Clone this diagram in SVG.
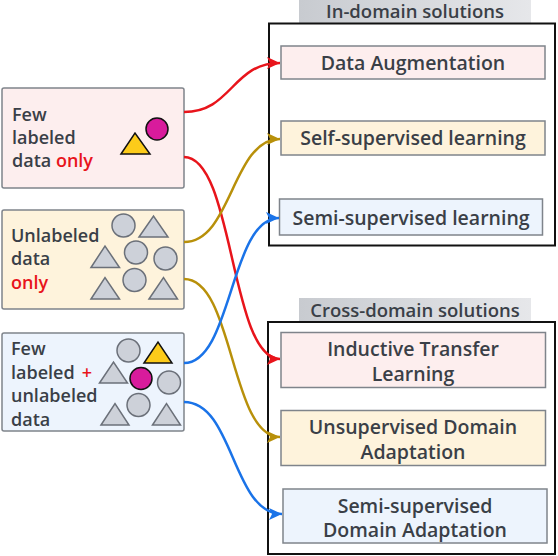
<svg xmlns="http://www.w3.org/2000/svg" width="558" height="556" viewBox="0 0 558 556">
<defs>
<style>
.t{font-family:"Open Sans","Noto Sans","Liberation Sans",sans-serif;font-weight:600;font-size:18px;fill:#3a3f47}
.r{font-size:19.5px}
.h{font-size:18.5px}
.red{fill:#e8141b}
.c{text-anchor:middle}
.box{stroke:#7f848b;stroke-width:1.5}
.pink{fill:#fdeeee}
.yel{fill:#fef3dc}
.blu{fill:#edf4fd}
.cont{fill:none;stroke:#111;stroke-width:2}
.gs{fill:#cdd1d9;stroke:#6b7079;stroke-width:1.5}
.ks{stroke:#111;stroke-width:1.5}
.mag{fill:#d81b9c}
.ylw{fill:#fccb1a}
.conn path{fill:none;stroke-width:2.5}
</style>
<linearGradient id="lg" x1="0" y1="0" x2="1" y2="0">
<stop offset="0" stop-color="#c8cbd0"/>
<stop offset="1" stop-color="#e6e7ea"/>
</linearGradient>
<marker id="ar" markerUnits="userSpaceOnUse" markerWidth="14" markerHeight="12" refX="13" refY="6" orient="auto"><path d="M0,0 L13,6 L0,12 L3,6 z" fill="#e8141b"/></marker>
<marker id="ag" markerUnits="userSpaceOnUse" markerWidth="14" markerHeight="12" refX="13" refY="6" orient="auto"><path d="M0,0 L13,6 L0,12 L3,6 z" fill="#b8900a"/></marker>
<marker id="ab" markerUnits="userSpaceOnUse" markerWidth="14" markerHeight="12" refX="13" refY="6" orient="auto"><path d="M0,0 L13,6 L0,12 L3,6 z" fill="#1a73e8"/></marker>
</defs>
<rect width="558" height="556" fill="#fff"/>

<g id="in-domain">
<rect x="299" y="0" width="232" height="23" fill="url(#lg)"/>
<text class="t h c" x="415" y="18">In-domain solutions</text>
<rect class="cont" x="269" y="23.5" width="286" height="222"/>
</g>
<g id="cross-domain">
<rect x="299" y="298" width="232" height="24" fill="url(#lg)"/>
<text class="t h c" x="415" y="317">Cross-domain solutions</text>
<rect class="cont" x="268" y="322" width="287" height="232"/>
</g>

<g id="few-labeled">
<rect class="box pink" x="2" y="88" width="182" height="100" rx="2"/>
<text class="t" x="12" y="121">Few</text>
<text class="t" x="12" y="144">labeled</text>
<text class="t" x="12" y="167">data <tspan class="red">only</tspan></text>
<polygon class="ylw ks" points="121,154 135,133 150,154"/>
<circle class="mag ks" cx="157" cy="129" r="11"/>
</g>

<g id="unlabeled">
<rect class="box yel" x="2" y="210" width="182" height="99" rx="2"/>
<text class="t" x="11" y="242">Unlabeled</text>
<text class="t" x="11" y="265">data</text>
<text class="t red" x="11" y="289">only</text>
<circle class="gs" cx="123.5" cy="225.5" r="11.5"/>
<polygon class="gs" points="139,237 153.5,216 168,237"/>
<polygon class="gs" points="91,267.5 105,246 119.5,267.5"/>
<circle class="gs" cx="136" cy="252.5" r="11.5"/>
<circle class="gs" cx="165.5" cy="258.5" r="11.5"/>
<circle class="gs" cx="134.5" cy="280" r="11.5"/>
<polygon class="gs" points="91,299 105,277.5 119.5,299"/>
<polygon class="gs" points="149,299 163.5,277.5 177.5,299"/>
</g>

<g id="few-plus-unlabeled">
<rect class="box blu" x="2" y="333" width="182" height="98" rx="2"/>
<text class="t" x="11" y="355">Few</text>
<text class="t" x="11" y="379">labeled</text>
<text class="t red c" x="87" y="379" font-size="16" font-weight="700">+</text>
<text class="t" x="11" y="402">unlabeled</text>
<text class="t" x="11" y="426">data</text>
<circle class="gs" cx="128.5" cy="350.5" r="11.5"/>
<polygon class="ylw ks" points="144,363 158,342 172,363"/>
<polygon class="gs" points="99.5,383 113.5,362 127.5,383"/>
<circle class="mag ks" cx="141" cy="378.5" r="11"/>
<circle class="gs" cx="169" cy="382.5" r="11.5"/>
<circle class="gs" cx="138.5" cy="405" r="11.5"/>
<polygon class="gs" points="101,425 115,403.5 129,425"/>
<polygon class="gs" points="152.5,425 166.5,403.5 180.5,425"/>
</g>

<g id="data-augmentation">
<rect class="box pink" x="281" y="46" width="264" height="33"/>
<text class="t r c" x="413" y="69.5">Data Augmentation</text>
</g>
<g id="self-supervised">
<rect class="box yel" x="281" y="121" width="264" height="34"/>
<text class="t r c" x="413" y="145">Self-supervised learning</text>
</g>
<g id="semi-supervised">
<rect class="box blu" x="279.5" y="199" width="263" height="36"/>
<text class="t r c" x="411" y="224.5">Semi-supervised learning</text>
</g>
<g id="inductive-transfer">
<rect class="box pink" x="281" y="332.5" width="264.5" height="55"/>
<text class="t r c" x="413" y="356">Inductive Transfer</text>
<text class="t r c" x="413" y="380.5">Learning</text>
</g>
<g id="uda">
<rect class="box yel" x="281" y="410.5" width="264.5" height="55"/>
<text class="t r c" x="413" y="434">Unsupervised Domain</text>
<text class="t r c" x="413" y="458.5">Adaptation</text>
</g>
<g id="ssda">
<rect class="box blu" x="283" y="489" width="264" height="54"/>
<text class="t r c" x="415" y="512.5">Semi-supervised</text>
<text class="t r c" x="415" y="537">Domain Adaptation</text>
</g>

<g id="connectors" class="conn">
<path stroke="#e8141b" marker-end="url(#ar)" d="M184,112 C232,112 232,63 280,63"/>
<path stroke="#e8141b" marker-end="url(#ar)" d="M184,157 C234,157 230,359 280,359"/>
<path stroke="#b8900a" marker-end="url(#ag)" d="M184,242 C232,242 232,139 280,139"/>
<path stroke="#b8900a" marker-end="url(#ag)" d="M184,279 C234,279 230,437 280,437"/>
<path stroke="#1a73e8" marker-end="url(#ab)" d="M184,363 C232,363 230,218 279,218"/>
<path stroke="#1a73e8" marker-end="url(#ab)" d="M184,402 C234,402 232,514 282,514"/>
</g>
</svg>
